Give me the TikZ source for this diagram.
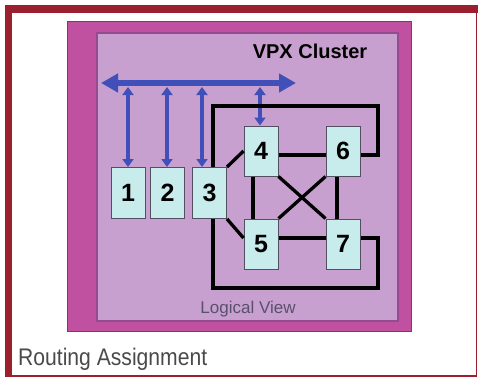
\documentclass[tikz,border=0pt]{standalone}
\usepackage{fontspec}
\setmainfont{Liberation Sans}
\definecolor{framered}{RGB}{154, 32, 48}
\definecolor{clustermag}{RGB}{192, 80, 160}
\definecolor{clusteredge}{RGB}{122, 58, 106}
\definecolor{viewlilac}{RGB}{200, 160, 208}
\definecolor{viewedge}{RGB}{150, 74, 144}
\definecolor{cardcyan}{RGB}{200, 236, 236}
\definecolor{cardedge}{RGB}{80, 80, 96}
\definecolor{busblue}{RGB}{64, 80, 184}
\definecolor{captiongray}{RGB}{74, 74, 74}
\definecolor{viewgray}{RGB}{90, 80, 110}
\usetikzlibrary{arrows.meta, calc}

\begin{document}
\begin{tikzpicture}[x=1pt, y=-1pt,
  card/.style={draw=cardedge, line width=1pt, fill=cardcyan, minimum width=34pt,
    minimum height=51pt, inner sep=0pt, font=\fontsize{25}{28}\selectfont\bfseries},
  link/.style={line width=3.3pt, black},
  updown/.style={busblue, line width=3.6pt,
    {Triangle[width=11pt,length=8pt]}-{Triangle[width=11pt,length=8pt]}},
]
\useasboundingbox (0,0) rectangle (478,377);
\fill[white] (0,0) rectangle (478,377);

% Slide frame
\fill[framered] (5,5) rectangle (478,13);
\fill[framered] (5,5) rectangle (12,377);
\draw[framered, line width=1.3pt] (476.5,13) -- (476.5,376) -- (12,376);

% Cluster panel
\filldraw[fill=clustermag, draw=clusteredge, line width=1pt] (67,22) rectangle (411,331);
\filldraw[fill=viewlilac, draw=viewedge, line width=1.5pt] (97,33) rectangle (398,321);
\node[font=\fontsize{20}{24}\selectfont\bfseries] (title) at (310,51) {VPX Cluster};
\node[font=\fontsize{17}{20}\selectfont, text=viewgray] (view) at (248,309) {Logical View};

% Boards
\node[card] (b1) at (128,193) {1};
\node[card] (b2) at (167.5,193) {2};
\node[card] (b3) at (209.5,193) {3};
\node[card, minimum height=50pt] (b4) at (261,151) {4};
\node[card, minimum height=50pt] (b6) at (343,151) {6};
\node[card, minimum height=50pt] (b5) at (261,244) {5};
\node[card, minimum height=50pt] (b7) at (343,244) {7};

% Bus
\coordinate (busL) at (101,83);
\coordinate (busR) at (296,83);
\draw[busblue, line width=6.5pt, {Triangle[width=18pt,length=17pt]}-{Triangle[width=18pt,length=17pt]}]
  (busL) -- (busR);
\coordinate (t1) at (128,87);
\coordinate (t2) at (167,87);
\coordinate (t3) at (202,87);
\coordinate (t4) at (260,87);
\draw[updown] (t1) -- (t1 |- b1.north);
\draw[updown] (t2) -- (t2 |- b2.north);
\draw[updown] (t3) -- (t3 |- b3.north);
\draw[updown] (t4) -- (t4 |- b4.north);

% Outer loops
\coordinate (lt) at (213,106);
\coordinate (rt) at (378,106);
\coordinate (lb) at (213,288);
\coordinate (rb) at (378,288);
\draw[link] (lt |- b3.north) -- (lt) -- (rt) -- (rt |- 0,155) -- ([yshift=-4pt]b6.east);
\draw[link] (lb |- b3.south) -- (lb) -- (rb) -- (rb |- 0,238) -- ([yshift=6pt]b7.east);

% Mesh links
\draw[link] (b3.north east) -- (b4.west);
\draw[link] (b3.south east) -- ([yshift=6pt]b5.west);
\draw[link] ([yshift=-4pt]b4.east) -- ([yshift=-4pt]b6.west);
\draw[link] ([yshift=6pt]b5.east) -- ([yshift=6pt]b7.west);
\draw[link] ([xshift=-8pt]b4.south) -- ([xshift=-8pt]b5.north);
\draw[link] ([xshift=-6pt]b6.south) -- ([xshift=-6pt]b7.north);
\draw[link] (b4.south east) -- (b7.north west);
\draw[link] (b6.south west) -- (b5.north east);

% Caption
\node[anchor=west, inner sep=0pt, xscale=0.88, text=captiongray, font=\fontsize{24}{28}\selectfont] (caption) at (18,359) {Routing Assignment};
\end{tikzpicture}
\end{document}
